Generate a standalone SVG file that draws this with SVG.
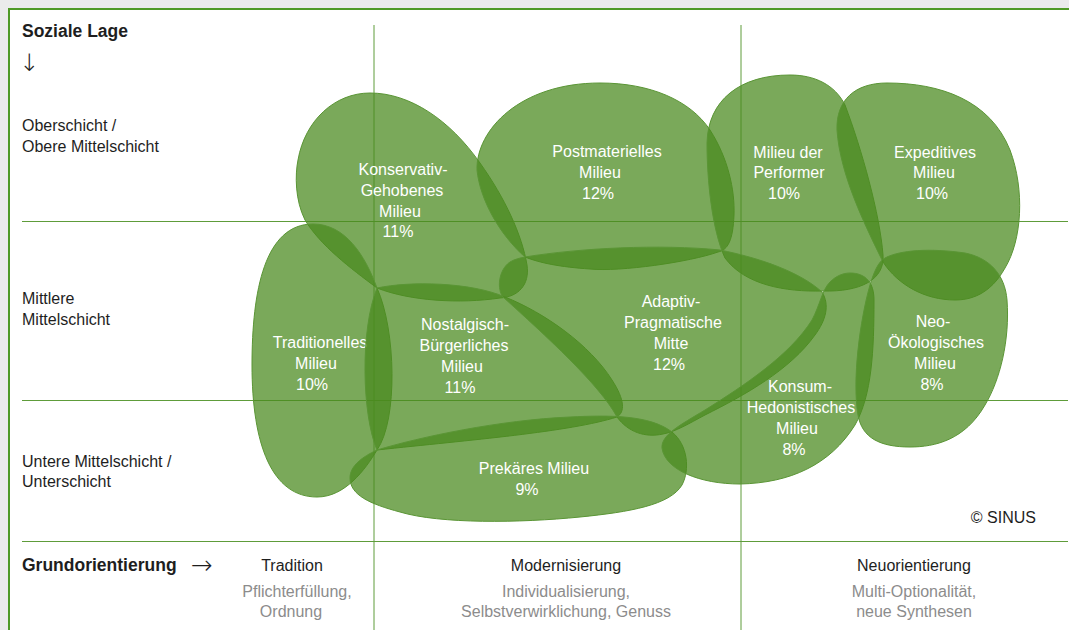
<svg xmlns="http://www.w3.org/2000/svg" width="1069" height="630" viewBox="0 0 1069 630">
<style>
.bg{fill:#ebebeb}
.frame{fill:#ffffff;stroke:#4f9a26;stroke-width:2}
.grid{stroke:#5e9c3a;stroke-width:1;fill:none}
.blob{fill:#4a8a1e;fill-opacity:0.735;stroke:#5a9535;stroke-width:1}
.lbl{font-family:"Liberation Sans",Arial,sans-serif;font-size:16px;fill:#ffffff;text-anchor:middle}
.axis{font-family:"Liberation Sans",Arial,sans-serif;font-size:16px;fill:#1e1e1e}
.arrow{font-family:"DejaVu Sans",sans-serif;font-weight:200;fill:#1e1e1e}
.axisb{font-family:"Liberation Sans",Arial,sans-serif;font-size:17.5px;font-weight:bold;fill:#1e1e1e}
.cat{font-family:"Liberation Sans",Arial,sans-serif;font-size:16px;fill:#1e1e1e;text-anchor:middle}
.sub{font-family:"Liberation Sans",Arial,sans-serif;font-size:16px;fill:#8c8c8c;text-anchor:middle}
</style>
<rect class="bg" x="0" y="0" width="1069" height="630"/>
<rect class="frame" x="9" y="9" width="1080" height="640"/>

<g id="axes">
<line class="grid" x1="374" y1="25" x2="374" y2="630"/>
<line class="grid" x1="741" y1="25" x2="741" y2="630"/>
<line class="grid" x1="22" y1="221.5" x2="1068" y2="221.5"/>
<line class="grid" x1="22" y1="400.5" x2="1068" y2="400.5"/>
<line class="grid" x1="22" y1="541.5" x2="1068" y2="541.5"/>
</g>

<g id="axis-labels">
<text class="axisb" x="22" y="37">Soziale Lage</text>
<text class="arrow" x="29" y="71" text-anchor="middle" style="font-size:24px">↓</text>
<text class="axis" x="22" y="131">Oberschicht /</text>
<text class="axis" x="22" y="151.5">Obere Mittelschicht</text>
<text class="axis" x="22" y="304">Mittlere</text>
<text class="axis" x="22" y="325">Mittelschicht</text>
<text class="axis" x="22" y="467">Untere Mittelschicht /</text>
<text class="axis" x="22" y="487">Unterschicht</text>
<text class="axisb" x="22" y="571">Grundorientierung</text>
<text class="arrow" x="191" y="574" style="font-size:26px">→</text>
<text class="cat" x="292" y="571">Tradition</text>
<text class="sub" x="297" y="597">Pflichterfüllung,</text>
<text class="sub" x="291" y="617">Ordnung</text>
<text class="cat" x="566" y="571">Modernisierung</text>
<text class="sub" x="566" y="597">Individualisierung,</text>
<text class="sub" x="566" y="617">Selbstverwirklichung, Genuss</text>
<text class="cat" x="914" y="571">Neuorientierung</text>
<text class="sub" x="914" y="597">Multi-Optionalität,</text>
<text class="sub" x="914" y="617">neue Synthesen</text>
<text class="axis" x="1036" y="523" text-anchor="end">© SINUS</text>
</g>

<g id="konservativ-gehobenes">
<path class="blob" d="M 370,93 C 410,93 450,120 480,163 C 505,198 522,235 527,265 C 530,285 518,297 500,298 C 460,304 410,301 377,288 C 350,268 320,245 305,220 C 295,200 295,175 298,160 C 305,120 335,93 370,93 Z"/>
<text class="lbl" x="403" y="175">Konservativ-</text>
<text class="lbl" x="402" y="196">Gehobenes</text>
<text class="lbl" x="400" y="217">Milieu</text>
<text class="lbl" x="398" y="237">11%</text>
</g>

<g id="postmaterielles">
<path class="blob" d="M 600,83 C 650,83 690,100 710,130 C 728,158 735,190 734,215 C 733,240 728,250 718,252 C 690,262 620,272 590,269 C 560,267 540,263 525,257 C 500,235 480,200 477,170 C 476,130 520,83 600,83 Z"/>
<text class="lbl" x="607" y="157">Postmaterielles</text>
<text class="lbl" x="600" y="178">Milieu</text>
<text class="lbl" x="598" y="199">12%</text>
</g>

<g id="performer">
<path class="blob" d="M 790,75 C 815,75 835,85 845,105 C 862,150 880,215 883,255 C 885,280 860,292 823,291 C 785,292 745,285 725,258 C 712,230 707,180 707,143 C 708,100 740,75 790,75 Z"/>
<text class="lbl" x="788" y="158">Milieu der</text>
<text class="lbl" x="789" y="178">Performer</text>
<text class="lbl" x="784" y="199">10%</text>
</g>

<g id="expeditives">
<path class="blob" d="M 887,83 C 940,83 990,100 1010,150 C 1025,190 1022,240 1005,268 C 990,295 970,300 955,300 C 925,300 898,285 883,262 C 865,225 840,175 837,130 C 836,100 855,83 887,83 Z"/>
<text class="lbl" x="935" y="158">Expeditives</text>
<text class="lbl" x="934" y="178">Milieu</text>
<text class="lbl" x="932" y="199">10%</text>
</g>

<g id="traditionelles">
<path class="blob" d="M 313,224 C 345,224 365,255 377,288 C 396,330 398,420 377,450 C 365,470 345,497 317,497 C 272,497 252,445 252,365 C 252,290 265,224 313,224 Z"/>
<text class="lbl" x="320" y="348">Traditionelles</text>
<text class="lbl" x="316" y="369">Milieu</text>
<text class="lbl" x="312" y="390">10%</text>
</g>

<g id="nostalgisch-buergerliches">
<path class="blob" d="M 377,288 C 410,281 470,282 505,297 C 545,313 590,345 612,380 C 625,400 625,412 617,417 C 570,432 470,440 377,450 C 362,415 360,330 377,288 Z"/>
<text class="lbl" x="465" y="330">Nostalgisch-</text>
<text class="lbl" x="464" y="351">Bürgerliches</text>
<text class="lbl" x="462" y="372">Milieu</text>
<text class="lbl" x="460" y="393">11%</text>
</g>

<g id="adaptiv-pragmatische">
<path class="blob" d="M 525,257 C 580,248 660,244 720,250 C 760,258 800,272 822,292 C 830,305 826,320 815,335 C 790,370 745,395 705,415 C 690,423 675,432 663,434 C 645,438 628,432 617,417 C 600,385 545,335 503,297 C 497,290 498,270 510,262 C 515,259 520,258 525,257 Z"/>
<text class="lbl" x="671" y="307">Adaptiv-</text>
<text class="lbl" x="673" y="328">Pragmatische</text>
<text class="lbl" x="671" y="349">Mitte</text>
<text class="lbl" x="669" y="370">12%</text>
</g>

<g id="prekaeres">
<path class="blob" d="M 377,450 C 420,437 500,420 570,417 C 610,415 650,415 672,432 C 688,445 690,470 682,485 C 670,505 630,512 580,517 C 520,523 440,524 400,512 C 370,504 350,495 350,478 C 350,466 362,457 377,450 Z"/>
<text class="lbl" x="534" y="474">Prekäres Milieu</text>
<text class="lbl" x="527" y="495">9%</text>
</g>

<g id="konsum-hedonistisches">
<path class="blob" d="M 850,273 C 866,273 874,283 874,300 C 874,350 872,395 855,425 C 830,465 790,483 740,484 C 700,484 665,470 662,448 C 661,435 680,425 705,410 C 745,385 790,355 812,320 C 820,305 822,290 830,282 C 836,276 843,273 850,273 Z"/>
<text class="lbl" x="800" y="392">Konsum-</text>
<text class="lbl" x="801" y="413">Hedonistisches</text>
<text class="lbl" x="797" y="434">Milieu</text>
<text class="lbl" x="794" y="455">8%</text>
</g>

<g id="neo-oekologisches">
<path class="blob" d="M 885,258 C 900,250 930,248 965,253 C 990,258 1005,275 1007,300 C 1010,340 1000,380 985,405 C 965,440 935,447 910,447 C 880,447 862,438 858,415 C 852,380 860,320 870,285 C 874,272 878,262 885,258 Z"/>
<text class="lbl" x="933" y="327">Neo-</text>
<text class="lbl" x="936" y="348">Ökologisches</text>
<text class="lbl" x="935" y="369">Milieu</text>
<text class="lbl" x="932" y="390">8%</text>
</g>
</svg>
